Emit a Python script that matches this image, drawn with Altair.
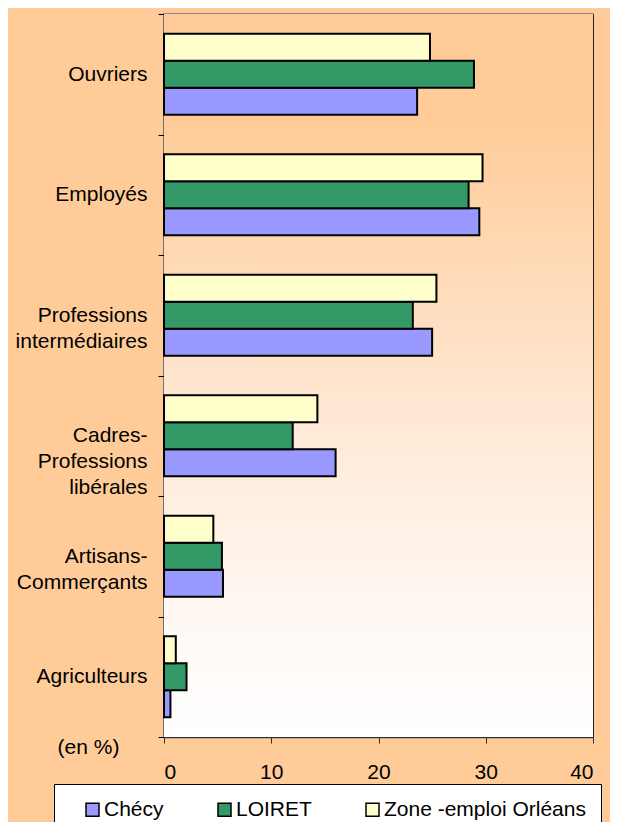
import altair as alt
import pandas as pd

NB = "\u00a0"
categories = [
    "Ouvriers",
    "Employés",
    "Professions" + NB * 2 + "\nintermédiaires",
    "Cadres-" + NB * 3 + "\nProfessions\nlibérales" + NB * 3,
    "Artisans-" + NB * 4 + "\nCommerçants",
    "Agriculteurs",
]
series = ["Chécy", "LOIRET", "Zone -emploi Orléans"]
checy = [23.6, 29.4, 25.0, 16.0, 5.5, 0.6]
loiret = [28.9, 28.4, 23.2, 12.0, 5.4, 2.1]
zone = [24.8, 29.7, 25.4, 14.3, 4.6, 1.1]
colors = ["#9999FF", "#339966", "#FFFFCC"]
x_ticks = [0, 10, 20, 30, 40]

rows = []
for i, c in enumerate(categories):
    for s, vals in zip(series, [checy, loiret, zone]):
        rows.append({"cat": c, "serie": s, "val": vals[i]})
df = pd.DataFrame(rows)

W, H = 429, 723
FONT = "Liberation Sans"
FS = 21

bg = alt.Chart(pd.DataFrame({"a": [0]})).mark_rect(
    fill=alt.LinearGradient(
        gradient="linear", x1=0, x2=0, y1=0, y2=1,
        stops=[
            alt.GradientStop(offset=0, color="#FFCC99"),
            alt.GradientStop(offset=0.15, color="#FFCC99"),
            alt.GradientStop(offset=0.55, color="#FFE8D4"),
            alt.GradientStop(offset=0.85, color="#FFF9F5"),
            alt.GradientStop(offset=1, color="#FFFFFF"),
        ],
    )
).encode(
    x=alt.datum(0), x2=alt.datum(40),
    y=alt.value(0), y2=alt.value(H),
)

bars = alt.Chart(df).mark_bar(stroke="black", strokeWidth=2).encode(
    x=alt.X(
        "val:Q",
        scale=alt.Scale(domain=[0, 40], nice=False),
        axis=alt.Axis(
            values=x_ticks, title=None, grid=True, gridColor="#202020",
            gridWidth=1, domainColor="#303030", domainWidth=1.5,
            tickColor="#303030", tickSize=6, labelPadding=18,
            labelFont=FONT, labelFontSize=FS, labelColor="black",
        ),
    ),
    y=alt.Y(
        "cat:N", sort=categories,
        scale=alt.Scale(paddingInner=0, paddingOuter=0),
        axis=alt.Axis(
            title="(en %)", titleAngle=0, titleX=-76, titleY=733,
            titleAlign="center", titleBaseline="middle",
            titleFont=FONT, titleFontSize=FS, titleFontWeight="normal",
            titleColor="black",
            tickBand="extent", tickSize=6, tickColor="black",
            domainColor="#303030", domainWidth=1.5,
            labelPadding=11, labelFont=FONT, labelFontSize=FS,
            labelColor="black", labelLineHeight=26,
            labelExpr="split(datum.label, '\\n')", labelLimit=300,
        ),
    ),
    yOffset=alt.YOffset(
        "serie:N", sort=["Zone -emploi Orléans", "LOIRET", "Chécy"],
        scale=alt.Scale(paddingInner=0, paddingOuter=0.73),
    ),
    color=alt.Color(
        "serie:N",
        scale=alt.Scale(domain=series, range=colors),
        legend=alt.Legend(
            title=None, orient="none", legendX=-110, legendY=770,
            direction="horizontal", fillColor="white", strokeColor="black",
            padding=15, symbolType="square", symbolSize=169,
            symbolStrokeColor="black", symbolStrokeWidth=1.5,
            symbolOffset=13, labelOffset=1, columnPadding=37,
            labelFont=FONT, labelFontSize=FS, labelColor="black",
            labelLimit=400,
        ),
    ),
)

chart = alt.layer(bg, bars).properties(
    width=W, height=H,
    autosize=alt.AutoSizeParams(type="none"),
    padding={"left": 156, "top": 6, "right": 17, "bottom": 85},
    background="#FFCC99",
).configure_view(stroke="#888888", strokeWidth=2)

chart.save("out.html", embed_options={"renderer": "svg", "actions": False})
